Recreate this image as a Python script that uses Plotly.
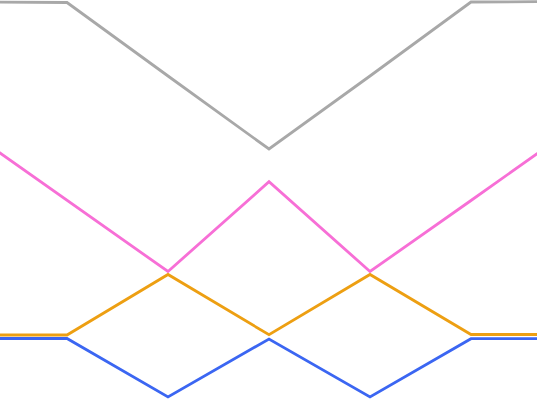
import plotly.graph_objects as go

x_vals = [0, 1, 2, 3, 4, 5, 6]
gray_vals = [398, 397.5, 324, 251, 324, 398, 398.5]
pink_vals = [271, 199.5, 128.5, 218.3, 128.5, 199.5, 271]
orange_vals = [65, 65, 125.5, 65.3, 125.5, 65.5, 65.5]
blue_vals = [61.5, 61.5, 3, 61, 3, 61.3, 61.3]

series = [
    ("gray", gray_vals, "#a8a8a8"),
    ("pink", pink_vals, "#f76fd6"),
    ("orange", orange_vals, "#ed9f12"),
    ("blue", blue_vals, "#3b66f2"),
]

fig = go.Figure()
for name, vals, color in series:
    fig.add_trace(go.Scatter(x=x_vals, y=vals, mode="lines", name=name,
                             line=dict(color=color, width=2.8)))

fig.update_layout(
    width=537, height=400,
    margin=dict(l=0, r=0, t=0, b=0),
    paper_bgcolor="white", plot_bgcolor="white",
    showlegend=False,
    xaxis=dict(range=[34/101, 571/101], visible=False, showgrid=False, zeroline=False),
    yaxis=dict(range=[0, 400], visible=False, showgrid=False, zeroline=False),
)
fig.write_html(
    "out.html",
    config={"displayModeBar": False},
    post_script="document.body.style.margin='0';document.body.style.overflow='hidden';",
)
